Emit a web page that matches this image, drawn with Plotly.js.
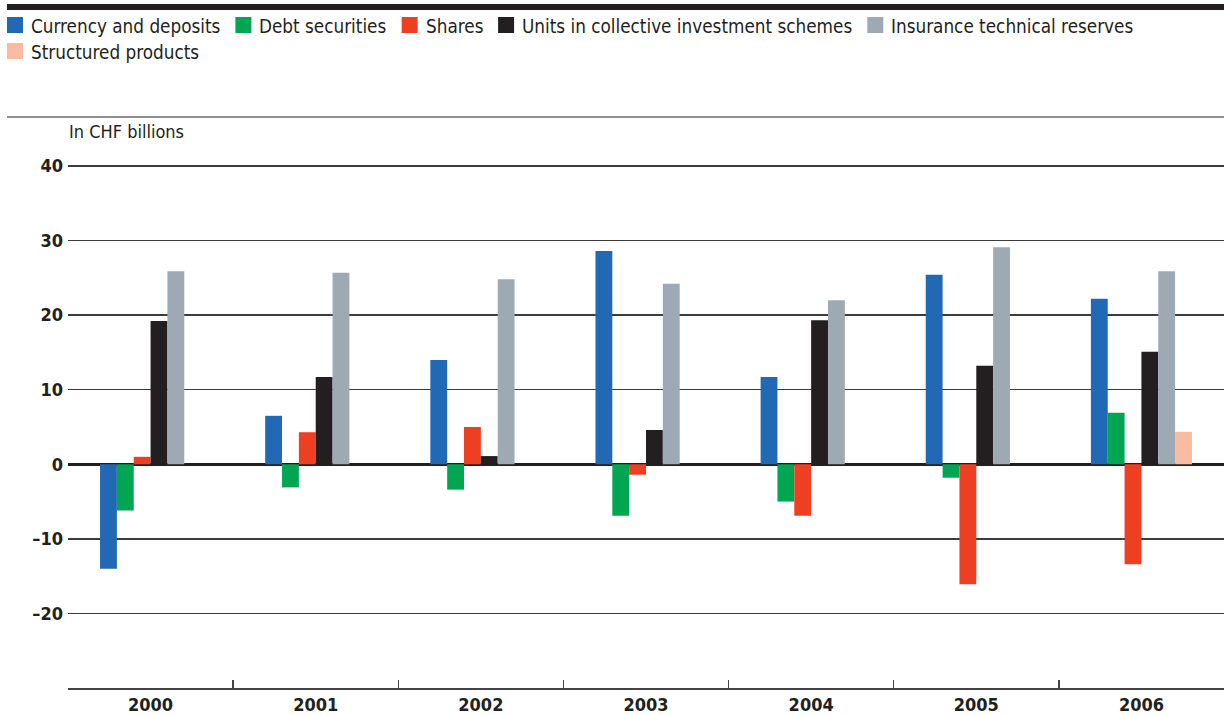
<!DOCTYPE html>
<html>
<head>
<meta charset="utf-8">
<script src="https://cdn.plot.ly/plotly-3.0.1.min.js"></script>
<style>html,body{margin:0;padding:0;background:#fff;}#chart{width:1224px;height:715px;}</style>
</head>
<body>
<div id="chart"></div>
<script>
const years = ["2000", "2001", "2002", "2003", "2004", "2005", "2006"];
const seriesNames = ["Currency and deposits", "Debt securities", "Shares", "Units in collective investment schemes", "Insurance technical reserves", "Structured products"];
const currencyDeposits = [-14.0, 6.5, 14.0, 28.6, 11.7, 25.4, 22.2];
const debtSecurities = [-6.2, -3.1, -3.4, -6.9, -5.0, -1.8, 6.9];
const shares = [1.0, 4.3, 5.0, -1.4, -6.9, -16.1, -13.4];
const unitsCIS = [19.2, 11.7, 1.1, 4.6, 19.3, 13.2, 15.1];
const insuranceReserves = [25.9, 25.7, 24.8, 24.2, 22.0, 29.1, 25.9];
const structuredProducts = [null, null, null, null, null, null, 4.35];
const yTickVals = [-20, -10, 0, 10, 20, 30, 40];
const yTickText = ["\u201320", "\u201310", "0", "10", "20", "30", "40"];
const colors = ["#2169b5", "#00a651", "#ef3f23", "#231f20", "#9eaab3", "#f9bca2"];

const FONT = "'DejaVu Sans Condensed', 'Liberation Sans Narrow', 'DejaVu Sans', sans-serif";
const TEXT = "#231f20";
const W = 1224, H = 715;
const ML = 68, MR = 0, MT = 164, MB = 27;
const PW = W - ML - MR, PH = H - MT - MB;
const px2x = px => (px - ML) / PW;          // container px -> paper x
const px2y = py => (H - MB - py) / PH;      // container px -> paper y

const allValues = [currencyDeposits, debtSecurities, shares, unitsCIS, insuranceReserves, structuredProducts];
const data = allValues.map((vals, i) => ({
  type: "bar",
  name: seriesNames[i],
  x: years,
  y: vals,
  marker: {color: colors[i], line: {width: 0}},
  showlegend: false
}));

const shapes = [
  {type: "rect", xref: "paper", yref: "paper", x0: px2x(7), x1: px2x(W), y0: px2y(10), y1: px2y(4), fillcolor: TEXT, line: {width: 0}},
  {type: "line", xref: "paper", yref: "paper", x0: px2x(7), x1: px2x(W), y0: px2y(117), y1: px2y(117), line: {color: TEXT, width: 1.2}}
];
const annotations = [
  {text: "In CHF billions", xref: "paper", yref: "paper", x: px2x(67), y: px2y(131), xanchor: "left", yanchor: "middle", showarrow: false, font: {family: FONT, size: 18, color: TEXT}}
];

// custom legend (16px swatches, flowing left to right, wrapping)
const LEG_SIZE = 18.75;
const ctx = document.createElement("canvas").getContext("2d");
ctx.font = LEG_SIZE + "px " + FONT;
let lx = 7, row = 0;
seriesNames.forEach((name, i) => {
  const tw = ctx.measureText(name).width;
  if (lx + 23 + tw > W - 4) { row += 1; lx = 7; }
  const yc = 25 + row * 26;
  shapes.push({type: "rect", xref: "paper", yref: "paper", x0: px2x(lx), x1: px2x(lx + 16), y0: px2y(yc + 8), y1: px2y(yc - 8), fillcolor: colors[i], line: {width: 0}});
  annotations.push({text: name, xref: "paper", yref: "paper", x: px2x(lx + 22), y: px2y(yc + 1), xanchor: "left", yanchor: "middle", showarrow: false, font: {family: FONT, size: LEG_SIZE, color: TEXT}});
  lx += 23 + tw + 16;
});

const layout = {
  width: W, height: H,
  margin: {l: ML, r: MR, t: MT, b: MB},
  paper_bgcolor: "#fff", plot_bgcolor: "#fff",
  font: {family: FONT, size: 17, color: TEXT},
  barmode: "group", bargap: 0.388, bargroupgap: 0,
  showlegend: false,
  xaxis: {
    type: "category", range: [-0.5, 6.5],
    showline: true, linecolor: "#444", linewidth: 1.5,
    ticks: "inside", tickson: "boundaries", ticklen: 8, tickcolor: "#444", tickwidth: 1.5,
    showgrid: false, zeroline: false,
    tickfont: {family: FONT, size: 18, color: TEXT, weight: "bold"},
    fixedrange: true
  },
  yaxis: {
    range: [-30, 40.268], tickvals: yTickVals, ticktext: yTickText,
    showgrid: true, gridcolor: "#3d3b3c", gridwidth: 1.5,
    zeroline: true, zerolinecolor: TEXT, zerolinewidth: 3,
    showline: false, ticks: "", ticklabelstandoff: 4,
    tickfont: {family: FONT, size: 18, color: TEXT, weight: "bold"},
    fixedrange: true
  },
  shapes: shapes,
  annotations: annotations
};

Plotly.newPlot("chart", data, layout, {displayModeBar: false, staticPlot: true});
</script>
</body>
</html>
